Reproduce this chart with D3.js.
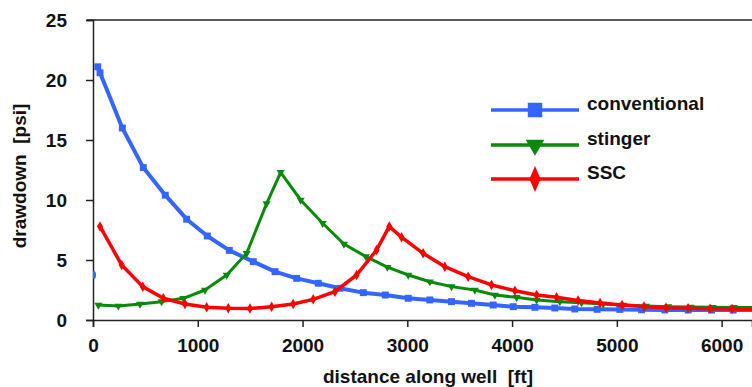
<!DOCTYPE html>
<html>
<head>
<meta charset="utf-8">
<script src="https://cdn.jsdelivr.net/npm/d3@7"></script>
<style>
  body { margin: 0; background: #fff; }
  svg { display: block; font-family: Arial, "Liberation Sans", sans-serif; }
</style>
</head>
<body>
<svg width="752" height="387"></svg>
<script>
// values, distance [ft] / drawdown [psi]
var convX = [45, 67, 280, 480, 690, 894, 1091, 1301, 1530, 1737, 1944, 2150, 2357, 2580, 2790, 3009, 3215, 3422, 3613, 3820, 4011, 4218, 4408, 4599, 4812, 5029, 5236, 5458, 5681, 5904, 6110, 6330];
var convY = [21.1, 20.6, 16.0, 12.7, 10.4, 8.4, 7.0, 5.8, 4.86, 4.03, 3.47, 3.06, 2.64, 2.28, 2.08, 1.81, 1.67, 1.53, 1.39, 1.25, 1.11, 1.06, 1.0, 0.92, 0.89, 0.88, 0.85, 0.84, 0.83, 0.83, 0.83, 0.83];
var convStart = [0, 3.75];

var stingX = [51, 242, 449, 655, 862, 1069, 1276, 1467, 1657, 1791, 1982, 2192, 2395, 2605, 2810, 3009, 3215, 3422, 3645, 3836, 4043, 4234, 4456, 4663, 4869, 5060, 5277, 5490, 5704, 5914, 6117, 6330];
var stingY = [1.25, 1.17, 1.33, 1.53, 1.81, 2.5, 3.75, 5.56, 9.7, 12.3, 10.0, 8.06, 6.33, 5.28, 4.4, 3.75, 3.19, 2.78, 2.5, 2.08, 1.89, 1.67, 1.53, 1.44, 1.33, 1.25, 1.17, 1.11, 1.08, 1.06, 1.05, 1.05];

var sscX = [67, 274, 475, 672, 878, 1085, 1291, 1498, 1705, 1911, 2102, 2309, 2516, 2707, 2828, 2945, 3151, 3358, 3581, 3804, 4027, 4234, 4424, 4630, 4840, 5050, 5260, 5470, 5680, 5890, 6100, 6330];
var sscY = [7.8, 4.58, 2.78, 1.81, 1.33, 1.06, 0.97, 0.95, 1.11, 1.33, 1.72, 2.36, 3.75, 5.83, 7.8, 6.9, 5.56, 4.44, 3.61, 2.92, 2.44, 2.08, 1.9, 1.62, 1.42, 1.25, 1.12, 1.02, 0.97, 0.93, 0.92, 0.9];

var xTicks = [0, 1000, 2000, 3000, 4000, 5000, 6000];
var yTicks = [0, 5, 10, 15, 20, 25];
var seriesNames = ["conventional", "stinger", "SSC"];
var seriesColors = ["#3366ff", "#0a8a0a", "#ff0000"];

var svg = d3.select("svg");

var x = d3.scaleLinear().domain([0, 6290]).range([93, 752]);
var y = d3.scaleLinear().domain([0, 25]).range([320, 20]);

// top frame line
svg.append("line")
    .attr("x1", 87).attr("x2", 752)
    .attr("y1", y(25)).attr("y2", y(25))
    .attr("stroke", "#222").attr("stroke-width", 1.5);

var xAxis = svg.append("g")
    .attr("transform", "translate(0," + y(0) + ")")
    .call(d3.axisBottom(x).tickValues(xTicks).tickFormat(d3.format("d")).tickSize(7).tickPadding(12));

var yAxis = svg.append("g")
    .attr("transform", "translate(" + x(0) + ",0)")
    .call(d3.axisLeft(y).tickValues(yTicks).tickSize(7).tickPadding(19));

[xAxis, yAxis].forEach(function(a) {
    a.select(".domain").attr("stroke", "#222").attr("stroke-width", 1.5);
    a.selectAll(".tick line").attr("stroke", "#222").attr("stroke-width", 1.5);
    a.selectAll("text")
        .attr("fill", "#111")
        .style("font-size", "19px")
        .style("font-weight", "bold")
        .style("font-family", "Arial, 'Liberation Sans', sans-serif");
});

svg.append("clipPath").attr("id", "clip")
  .append("rect").attr("x", 93).attr("y", 0).attr("width", 660).attr("height", 321);

var plot = svg.append("g").attr("clip-path", "url(#clip)");

var line = d3.line()
    .x(function(d) { return x(d[0]); })
    .y(function(d) { return y(d[1]); });

function pairs(xs, ys) { return xs.map(function(v, i) { return [v, ys[i]]; }); }

var series = [
    { pts: pairs(convX, convY), sym: d3.symbolSquare, size: 48, width: 4, rot: 0 },
    { pts: pairs(stingX, stingY), sym: d3.symbolTriangle, size: 28, width: 3, rot: 180 },
    { pts: pairs(sscX, sscY), sym: d3.symbolDiamond, size: 32, width: 3.5, rot: 0 }
];

series.forEach(function(s, i) {
    plot.append("path")
        .datum(s.pts)
        .attr("d", line)
        .attr("fill", "none")
        .attr("stroke", seriesColors[i])
        .attr("stroke-width", s.width)
        .attr("stroke-linejoin", "round");
    plot.selectAll(".m" + i)
        .data(s.pts)
        .enter()
        .append("path")
        .attr("class", "m" + i)
        .attr("d", d3.symbol().type(s.sym).size(s.size))
        .attr("fill", seriesColors[i])
        .attr("transform", function(d) {
            return "translate(" + x(d[0]) + "," + y(d[1]) + ") rotate(" + s.rot + ")";
        });
});

// lone blue dot on the axis
plot.append("ellipse")
    .attr("cx", x(convStart[0]) + 1).attr("cy", y(convStart[1]))
    .attr("rx", 2).attr("ry", 4)
    .attr("fill", seriesColors[0]);

// legend
var legY = [110, 145, 179];
var legend = svg.append("g");
series.forEach(function(s, i) {
    legend.append("line")
        .attr("x1", 491).attr("x2", 579)
        .attr("y1", legY[i]).attr("y2", legY[i])
        .attr("stroke", seriesColors[i])
        .attr("stroke-width", 3.5);
    legend.append("path")
        .attr("d", d3.symbol().type(s.sym).size(i == 0 ? 210 : 150))
        .attr("fill", seriesColors[i])
        .attr("transform", "translate(535," + legY[i] + ") rotate(" + s.rot + ")" + (i == 2 ? " scale(0.85,1.15)" : ""));
    legend.append("text")
        .attr("x", 587)
        .attr("y", legY[i])
        .text(seriesNames[i])
        .attr("fill", "#111")
        .style("font-size", "19px")
        .style("font-weight", "bold");
});

// axis titles
svg.append("text")
    .attr("x", 428).attr("y", 383)
    .attr("text-anchor", "middle")
    .style("font-size", "19px")
    .style("font-weight", "bold")
    .attr("fill", "#111")
    .attr("xml:space", "preserve")
    .text("distance along well  [ft]");

svg.append("text")
    .attr("transform", "translate(26,176) rotate(-90)")
    .attr("text-anchor", "middle")
    .style("font-size", "19px")
    .style("font-weight", "bold")
    .attr("fill", "#111")
    .attr("xml:space", "preserve")
    .text("drawdown  [psi]");
</script>
</body>
</html>
